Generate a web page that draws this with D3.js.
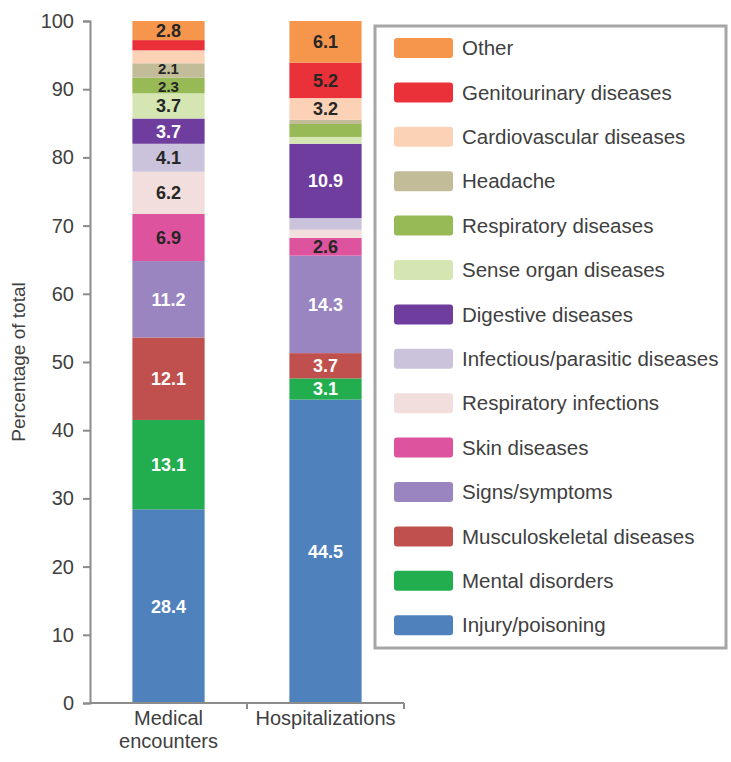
<!DOCTYPE html>
<html>
<head>
<meta charset="utf-8">
<script src="https://cdn.jsdelivr.net/npm/d3@7"></script>
<style>
  html, body { margin: 0; padding: 0; background: #fff; }
  svg { display: block; font-family: "Liberation Sans", Arial, sans-serif; }
</style>
</head>
<body>
<svg id="chart" width="731" height="762"></svg>
<script>
// ---- data ----
const categories = ["Medical encounters", "Hospitalizations"];
const categoryLines = [["Medical", "encounters"], ["Hospitalizations"]];
// stack order bottom -> top
const seriesNames = [
  "Injury/poisoning", "Mental disorders", "Musculoskeletal diseases", "Signs/symptoms",
  "Skin diseases", "Respiratory infections", "Infectious/parasitic diseases",
  "Digestive diseases", "Sense organ diseases", "Respiratory diseases", "Headache",
  "Cardiovascular diseases", "Genitourinary diseases", "Other"
];
const medicalValues = [28.4, 13.1, 12.1, 11.2, 6.9, 6.2, 4.1, 3.7, 3.7, 2.3, 2.1, 1.9, 1.5, 2.8];
const hospitalValues = [44.5, 3.1, 3.7, 14.3, 2.6, 1.2, 1.7, 10.9, 1.0, 1.9, 0.6, 3.2, 5.2, 6.1];
const seriesColors = [
  "#4F81BD", "#22AD4F", "#C0504D", "#9A85C1", "#DE539E", "#F2DEDC", "#CBC3DC",
  "#6E3D9E", "#D5E6B3", "#97B956", "#C3BC98", "#FBD2B6", "#EA3038", "#F6964C"
];
const labelColors = [
  "#fff", "#fff", "#fff", "#fff", "#262626", "#262626", "#262626",
  "#fff", "#262626", "#262626", "#262626", "#262626", "#262626", "#262626"
];
const yTicks = [0, 10, 20, 30, 40, 50, 60, 70, 80, 90, 100];
const labelMin = 2;

// ---- build ----
const svg = d3.select("#chart");
const values = [medicalValues, hospitalValues];
const rows = categories.map((c, ci) => {
  const r = { category: c };
  seriesNames.forEach((s, si) => r[s] = values[ci][si]);
  return r;
});
const stack = d3.stack().keys(seriesNames)(rows);

const y = d3.scaleLinear().domain([0, 100]).range([703, 21]);
const x = d3.scaleBand().domain(categories).range([90, 404]).padding(0);
const barW = x.bandwidth() * 0.46;
const color = d3.scaleOrdinal().domain(seriesNames).range(seriesColors);

// bars
const g = svg.append("g");
stack.forEach((layer, si) => {
  layer.forEach((d, ci) => {
    const cx = x(categories[ci]) + x.bandwidth() / 2;
    const y0 = y(d[0]), y1 = y(d[1]);
    g.append("rect")
      .attr("x", cx - barW / 2)
      .attr("y", y1)
      .attr("width", barW)
      .attr("height", Math.max(0, y0 - y1))
      .attr("fill", color(seriesNames[si]));
  });
});
// labels
stack.forEach((layer, si) => {
  layer.forEach((d, ci) => {
    const v = d[1] - d[0];
    if (v < labelMin) return;
    const cx = x(categories[ci]) + x.bandwidth() / 2;
    const small = v < 2.5;
    // tiny segments: nudge away from the neighbouring small label
    let nudge = 0;
    if (small) {
      const below = si > 0 ? values[ci][si - 1] : 99;
      const above = si < seriesNames.length - 1 ? values[ci][si + 1] : 99;
      if (below >= labelMin && below < 2.5) nudge -= 1.5;
      if (above >= labelMin && above < 2.5) nudge += 1.5;
    }
    g.append("text")
      .attr("x", cx)
      .attr("y", (y(d[0]) + y(d[1])) / 2 + nudge)
      .attr("dy", "0.36em")
      .attr("text-anchor", "middle")
      .attr("font-size", small ? 15 : 18)
      .attr("font-weight", "bold")
      .attr("fill", labelColors[si])
      .text(v.toFixed(1));
  });
});

// y axis
const axisColor = "#8C8C8C";
const yAxis = svg.append("g").attr("transform", "translate(90,0)")
  .call(d3.axisLeft(y).tickValues(yTicks).tickSize(7).tickPadding(9));
yAxis.select(".domain").attr("stroke", axisColor).attr("stroke-width", 2);
yAxis.selectAll(".tick line").attr("stroke", axisColor).attr("stroke-width", 2);
yAxis.selectAll(".tick text").attr("font-size", 20).attr("fill", "#404040")
  .attr("font-family", "Liberation Sans, Arial, sans-serif");

// x axis
const xAxis = svg.append("g").attr("transform", "translate(0,703)");
xAxis.append("line").attr("x1", 90).attr("x2", 404).attr("y1", 0).attr("y2", 0)
  .attr("stroke", axisColor).attr("stroke-width", 2);
[x(categories[1]), 404].forEach(px => {
  xAxis.append("line").attr("x1", px).attr("x2", px).attr("y1", 0).attr("y2", 6)
    .attr("stroke", axisColor).attr("stroke-width", 2);
});
categories.forEach((c, ci) => {
  const t = xAxis.append("text")
    .attr("x", x(c) + x.bandwidth() / 2)
    .attr("y", 22)
    .attr("text-anchor", "middle")
    .attr("font-size", 20)
    .attr("fill", "#404040");
  categoryLines[ci].forEach((ln, li) => {
    t.append("tspan").attr("x", x(c) + x.bandwidth() / 2).attr("dy", li === 0 ? 0 : 23).text(ln);
  });
});

// y title
svg.append("text")
  .attr("transform", "translate(25,362) rotate(-90)")
  .attr("text-anchor", "middle")
  .attr("font-size", 19)
  .attr("fill", "#404040")
  .text("Percentage of total");

// legend
const lg = svg.append("g");
lg.append("rect").attr("x", 375).attr("y", 26).attr("width", 351).attr("height", 622)
  .attr("fill", "#fff").attr("stroke", "#A6A6A6").attr("stroke-width", 3);
const legendOrder = seriesNames.slice().reverse();
legendOrder.forEach((s, i) => {
  const cy = 48 + i * 44.4;
  lg.append("rect").attr("x", 394).attr("y", cy - 10).attr("width", 59).attr("height", 20)
    .attr("rx", 3).attr("fill", color(s));
  lg.append("text").attr("x", 462).attr("y", cy).attr("dy", "0.35em")
    .attr("font-size", 20.5).attr("fill", "#404040").text(s);
});
</script>
</body>
</html>
